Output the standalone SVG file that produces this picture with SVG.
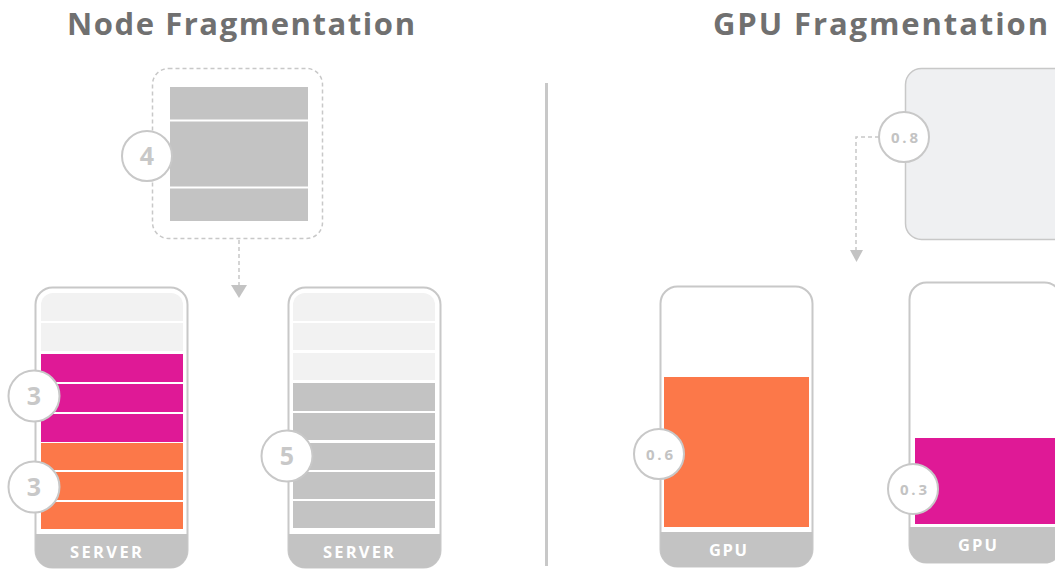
<svg xmlns="http://www.w3.org/2000/svg" width="1055" height="569" viewBox="0 0 1055 569">
  <style>
    .title { font-family: "Open Sans", "Liberation Sans", sans-serif; font-weight: 700; font-size: 31px; fill: #707070; }
    .frame { fill: #ffffff; stroke: #c8c8c8; stroke-width: 2; }
    .band { fill: #c3c3c3; }
    .band-label { font-family: "Open Sans", "Liberation Sans", sans-serif; font-weight: 700; font-size: 16.5px; fill: #ffffff; }
    .free { fill: #f2f2f2; }
    .used { fill: #c3c3c3; }
    .mag { fill: #df1996; }
    .org { fill: #fc7849; }
    .badge { fill: #ffffff; stroke: #c8c8c8; stroke-width: 2; }
    .num { font-family: "Open Sans", "Liberation Sans", sans-serif; font-weight: 700; font-size: 25px; fill: #c8c8c8; text-anchor: middle; }
    .frac { font-family: "Open Sans", "Liberation Sans", sans-serif; font-weight: 700; font-size: 15px; fill: #c3c3c3; }
    .dash { fill: none; stroke: #c8c8c8; stroke-width: 1.5; stroke-dasharray: 4 3; }
    .head { fill: #c3c3c3; }
  </style>

  <!-- section headings -->
  <text class="title" x="67" y="35" textLength="348" lengthAdjust="spacing">Node Fragmentation</text>
  <text class="title" x="713" y="35" textLength="335" lengthAdjust="spacing">GPU Fragmentation</text>

  <!-- center divider -->
  <line x1="546.5" y1="83" x2="546.5" y2="566" stroke="#c8c8c8" stroke-width="3"/>

  <!-- connectors -->
  <g id="connectors">
    <line class="dash" x1="239" y1="240" x2="239" y2="285"/>
    <polygon class="head" points="231,285 247,285 239,298"/>
    <polyline class="dash" points="879,137 856,137 856,250"/>
    <polygon class="head" points="850,250 863,250 856.5,262"/>
  </g>

  <!-- pending job: 4 units -->
  <g id="job-node">
    <rect x="152.5" y="68.5" width="170" height="170" rx="16" class="dash"/>
    <rect x="170" y="87" width="138" height="134" class="used"/>
    <line x1="170" y1="120.5" x2="308" y2="120.5" stroke="#ffffff" stroke-width="2"/>
    <line x1="170" y1="187.5" x2="308" y2="187.5" stroke="#ffffff" stroke-width="2"/>
    <circle cx="147" cy="156" r="25" class="badge"/>
    <text class="num" x="147" y="165">4</text>
  </g>

  <!-- server 1 -->
  <g id="server-1">
    <rect x="35.5" y="287.5" width="152" height="280" rx="17" class="frame"/>
    <path d="M35.5,534 H187.5 V551 a17,17 0 0 1 -17,17 H52.5 a17,17 0 0 1 -17,-17 Z" class="band"/>
    <path d="M41,321 V305 a12,12 0 0 1 12,-12 H171 a12,12 0 0 1 12,12 V321 Z" class="free"/>
    <rect x="41" y="323" width="142" height="28" class="free"/>
    <rect x="41" y="354" width="142" height="28" class="mag"/>
    <rect x="41" y="384" width="142" height="28" class="mag"/>
    <rect x="41" y="414" width="142" height="28" class="mag"/>
    <rect x="41" y="443" width="142" height="27" class="org"/>
    <rect x="41" y="472" width="142" height="28" class="org"/>
    <rect x="41" y="502" width="142" height="27" class="org"/>
    <text class="band-label" x="70" y="558" textLength="72" lengthAdjust="spacing">SERVER</text>
    <circle cx="34" cy="396" r="25.5" class="badge"/>
    <text class="num" x="34" y="405">3</text>
    <circle cx="34" cy="487" r="25.5" class="badge"/>
    <text class="num" x="34" y="496">3</text>
  </g>

  <!-- server 2 -->
  <g id="server-2">
    <rect x="288.5" y="287.5" width="152" height="280" rx="17" class="frame"/>
    <path d="M288.5,534 H440.5 V551 a17,17 0 0 1 -17,17 H305.5 a17,17 0 0 1 -17,-17 Z" class="band"/>
    <path d="M293,321 V305 a12,12 0 0 1 12,-12 H423 a12,12 0 0 1 12,12 V321 Z" class="free"/>
    <rect x="293" y="323" width="142" height="27" class="free"/>
    <rect x="293" y="353" width="142" height="27" class="free"/>
    <rect x="293" y="383" width="142" height="28" class="used"/>
    <rect x="293" y="413" width="142" height="27" class="used"/>
    <rect x="293" y="443" width="142" height="27" class="used"/>
    <rect x="293" y="472" width="142" height="27" class="used"/>
    <rect x="293" y="501" width="142" height="27" class="used"/>
    <text class="band-label" x="323" y="558" textLength="71" lengthAdjust="spacing">SERVER</text>
    <circle cx="287" cy="456" r="25.5" class="badge"/>
    <text class="num" x="287" y="465">5</text>
  </g>

  <!-- pending job: 0.8 GPU -->
  <g id="job-gpu">
    <rect x="905.5" y="68.5" width="170" height="171" rx="16" fill="#eff0f2" stroke="#c8c8c8" stroke-width="1.5"/>
    <circle cx="904" cy="137" r="25" class="badge"/>
    <text class="frac" x="891" y="142.5" textLength="27" lengthAdjust="spacing">0.8</text>
  </g>

  <!-- gpu 1 -->
  <g id="gpu-1">
    <rect x="660.5" y="286.5" width="152" height="280" rx="17" class="frame"/>
    <path d="M660.5,532 H812.5 V550 a17,17 0 0 1 -17,17 H677.5 a17,17 0 0 1 -17,-17 Z" class="band"/>
    <rect x="664" y="377" width="145" height="150" class="org"/>
    <text class="band-label" x="709" y="555.5" textLength="38" lengthAdjust="spacing">GPU</text>
    <circle cx="659" cy="454" r="25" class="badge"/>
    <text class="frac" x="646" y="459.5" textLength="27" lengthAdjust="spacing">0.6</text>
  </g>

  <!-- gpu 2 -->
  <g id="gpu-2">
    <rect x="909.5" y="282.5" width="152" height="280" rx="17" class="frame"/>
    <path d="M909.5,527 H1061.5 V546 a17,17 0 0 1 -17,17 H926.5 a17,17 0 0 1 -17,-17 Z" class="band"/>
    <rect x="915" y="438" width="145" height="86" class="mag"/>
    <text class="band-label" x="958" y="550.5" textLength="39" lengthAdjust="spacing">GPU</text>
    <circle cx="913" cy="489" r="25" class="badge"/>
    <text class="frac" x="900" y="494.5" textLength="27" lengthAdjust="spacing">0.3</text>
  </g>
</svg>
